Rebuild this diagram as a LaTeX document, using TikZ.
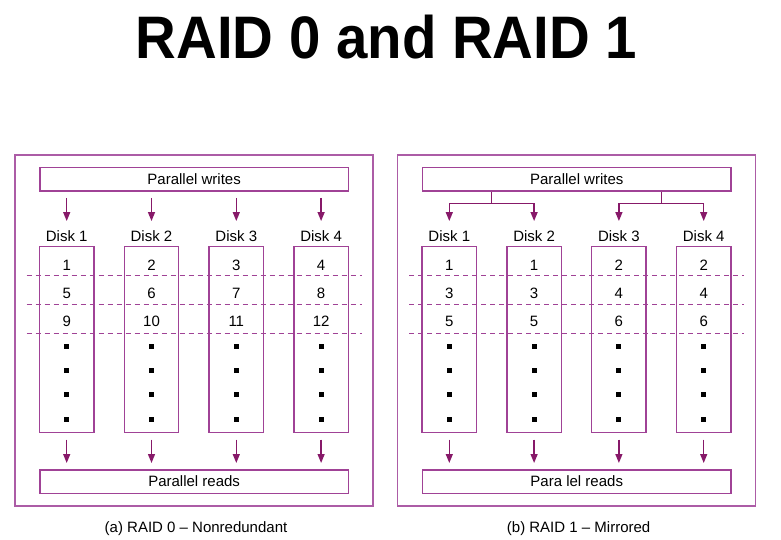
\documentclass[tikz,border=0pt]{standalone}
\usepackage{fontspec}
\setmainfont{Liberation Sans}
\usetikzlibrary{arrows.meta,calc}
\definecolor{framecol}{RGB}{172,92,166}
\definecolor{boxcol}{RGB}{160,66,150}
\definecolor{arrcol}{RGB}{135,25,105}

\begin{document}
\begin{tikzpicture}[x=1pt,y=-1pt,
  frame/.style={draw=framecol,line width=1.3pt},
  bar/.style={draw=boxcol,line width=1.3pt,minimum width=308.3pt,minimum height=23.5pt,
    inner sep=0pt,font=\fontsize{15}{18}\selectfont},
  disk/.style={draw=boxcol,line width=1.3pt,minimum width=54.4pt,minimum height=185.6pt,inner sep=0pt},
  lbl/.style={inner sep=0pt,font=\fontsize{15}{18}\selectfont},
  sep/.style={draw=boxcol,line width=0.9pt,dash pattern=on 5pt off 4pt},
  arr/.style={draw=arrcol,line width=1.3pt,-{Triangle[width=7pt,length=9pt]}},
  feed/.style={draw=arrcol,line width=1.3pt}]

\useasboundingbox (0,0) rectangle (781,539);

% heading
\node[anchor=base,inner sep=0pt,font=\fontsize{60}{66}\selectfont\bfseries] (title) at (386.5,58)
  {\scalebox{0.94}[1]{RAID 0 and RAID 1}};

% ---------- RAID 0: striping ----------
\begin{scope}
  \draw[frame] (15,155) rectangle (373,506);
  \node[bar] (a-w) at (194.15,179.25) {Parallel writes};
  \node[bar] (a-r) at (194.15,481.6) {Parallel reads};
  \foreach \yy in {275.7,304.3,333.3} \draw[sep] (26.7,\yy) -- (361.7,\yy);
  \foreach \i in {1,...,4} {
    \pgfmathsetmacro\cx{66.7+84.8*(\i-1)}
    \node[disk] (a-d\i) at (\cx,339.5) {};
    \node[lbl] (a-l\i) at (\cx,236) {Disk \i};
    \foreach \r/\yy in {1/265,2/293.5,3/321.7} {
      \pgfmathtruncatemacro\n{4*(\r-1)+\i}
      \node[lbl] (a-n\i-\r) at (\cx,\yy) {\n};
    }
    \foreach \yy in {346,370.7,394.3,419.3}
      \fill (\cx-2.5,\yy-2.5) rectangle ++(5,5);
    \draw[arr,shorten <=6.3pt,shorten >=25pt] (a-w.south -| a-d\i.north) -- (a-d\i.north);
    \draw[arr,shorten <=6.7pt,shorten >=6.2pt] (a-d\i.south) -- (a-r.north -| a-d\i.south);
  }
  \node[lbl,anchor=base] (a-cap) at (196,532) {(a) RAID 0 – Nonredundant};
\end{scope}

% ---------- RAID 1: mirroring ----------
\begin{scope}[xshift=382.6pt]
  \draw[frame] (15,155) rectangle (373,506);
  \node[bar] (b-w) at (194.15,179.25) {Parallel writes};
  \node[bar] (b-r) at (194.15,481.6) {Para lel reads};
  \foreach \yy in {275.7,304.3,333.3} \draw[sep] (26.7,\yy) -- (361.7,\yy);
  \foreach \i in {1,...,4} {
    \pgfmathsetmacro\cx{66.7+84.8*(\i-1)}
    \node[disk] (b-d\i) at (\cx,339.5) {};
    \node[lbl] (b-l\i) at (\cx,236) {Disk \i};
    \foreach \r/\yy in {1/265,2/293.5,3/321.7} {
      \pgfmathtruncatemacro\n{2*(\r-1)+int((\i+1)/2)}
      \node[lbl] (b-n\i-\r) at (\cx,\yy) {\n};
    }
    \foreach \yy in {346,370.7,394.3,419.3}
      \fill (\cx-2.5,\yy-2.5) rectangle ++(5,5);
    \draw[arr,shorten <=6.7pt,shorten >=6.2pt] (b-d\i.south) -- (b-r.north -| b-d\i.south);
  }
  % each write is split over a mirrored pair
  \coordinate (b-j12) at (109.1,203.3);
  \coordinate (b-j34) at (278.65,203.3);
  \draw[feed] (b-w.south -| b-j12) -- (b-j12);
  \draw[feed] (b-w.south -| b-j34) -- (b-j34);
  \draw[arr,shorten >=25pt] (b-j12) -| (b-d1.north);
  \draw[arr,shorten >=25pt] (b-j12) -| (b-d2.north);
  \draw[arr,shorten >=25pt] (b-j34) -| (b-d3.north);
  \draw[arr,shorten >=25pt] (b-j34) -| (b-d4.north);
  \node[lbl,anchor=base] (b-cap) at (196,532) {(b) RAID 1 – Mirrored};
\end{scope}
\end{tikzpicture}
\end{document}
